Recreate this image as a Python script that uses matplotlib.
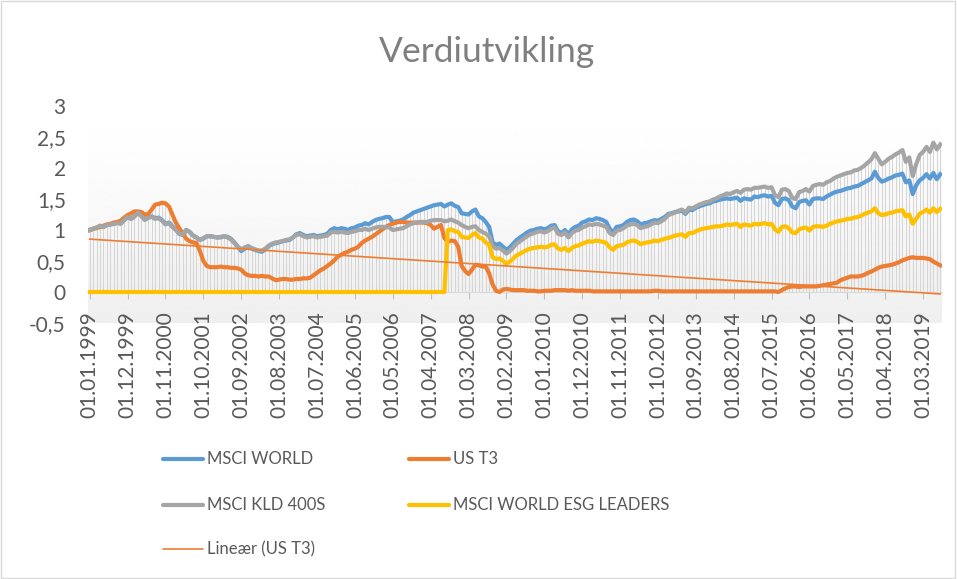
import numpy as np
import pandas as pd
import matplotlib.pyplot as plt
from matplotlib.lines import Line2D

plt.rcParams['font.family'] = ['Lato', 'DejaVu Sans']

# monthly index values, Jan 1999 - Aug 2019
msci_world = [
    1.00, 1.02, 1.04, 1.06, 1.05, 1.08, 1.09, 1.10, 1.12, 1.11, 1.16, 1.21,  # 1999
    1.18, 1.22, 1.28, 1.24, 1.17, 1.20, 1.22, 1.19, 1.20, 1.16, 1.10, 1.12,  # 2000
    1.06, 1.01, 0.94, 0.92, 1.00, 0.97, 0.91, 0.88, 0.84, 0.86, 0.90, 0.90,  # 2001
    0.89, 0.88, 0.88, 0.90, 0.89, 0.86, 0.80, 0.73, 0.66, 0.70, 0.74, 0.70,  # 2002
    0.68, 0.66, 0.65, 0.69, 0.74, 0.77, 0.79, 0.80, 0.82, 0.83, 0.84, 0.88,  # 2003
    0.93, 0.95, 0.92, 0.90, 0.91, 0.92, 0.90, 0.91, 0.92, 0.94, 1.00, 1.03,  # 2004
    1.01, 1.03, 1.02, 1.00, 1.03, 1.04, 1.07, 1.08, 1.11, 1.09, 1.13, 1.16,  # 2005
    1.18, 1.19, 1.21, 1.21, 1.13, 1.14, 1.15, 1.17, 1.21, 1.24, 1.28, 1.30,  # 2006
    1.32, 1.34, 1.36, 1.38, 1.40, 1.41, 1.42, 1.38, 1.41, 1.43, 1.39, 1.37,  # 2007
    1.27, 1.26, 1.25, 1.30, 1.33, 1.22, 1.19, 1.13, 1.05, 0.80, 0.76, 0.78,  # 2008
    0.73, 0.68, 0.72, 0.78, 0.84, 0.88, 0.92, 0.96, 0.99, 1.00, 1.02, 1.03,  # 2009
    1.01, 1.03, 1.07, 1.08, 0.98, 0.95, 1.00, 0.93, 1.01, 1.05, 1.07, 1.12,  # 2010
    1.14, 1.17, 1.16, 1.19, 1.18, 1.16, 1.13, 1.02, 0.96, 1.05, 1.06, 1.08,  # 2011
    1.13, 1.16, 1.17, 1.14, 1.09, 1.11, 1.12, 1.14, 1.16, 1.15, 1.18, 1.21,  # 2012
    1.26, 1.27, 1.29, 1.30, 1.31, 1.26, 1.33, 1.32, 1.36, 1.38, 1.40, 1.42,  # 2013
    1.43, 1.46, 1.47, 1.49, 1.50, 1.51, 1.50, 1.51, 1.52, 1.47, 1.51, 1.50,  # 2014
    1.49, 1.54, 1.53, 1.55, 1.56, 1.54, 1.55, 1.44, 1.40, 1.50, 1.51, 1.48,  # 2015
    1.38, 1.35, 1.45, 1.47, 1.48, 1.41, 1.50, 1.51, 1.51, 1.50, 1.54, 1.57,  # 2016
    1.60, 1.62, 1.63, 1.65, 1.67, 1.68, 1.70, 1.71, 1.74, 1.77, 1.80, 1.83,  # 2017
    1.94, 1.84, 1.78, 1.80, 1.83, 1.85, 1.88, 1.89, 1.91, 1.77, 1.80, 1.58,  # 2018
    1.72, 1.80, 1.84, 1.90, 1.83, 1.92, 1.82, 1.90,                          # 2019
]

us_t3 = [
    1.00, 1.02, 1.03, 1.05, 1.07, 1.09, 1.10, 1.12, 1.13, 1.15, 1.20, 1.24,
    1.27, 1.30, 1.30, 1.29, 1.25, 1.26, 1.33, 1.41, 1.42, 1.44, 1.43, 1.38,
    1.25, 1.12, 1.03, 0.95, 0.86, 0.82, 0.80, 0.79, 0.66, 0.50, 0.42, 0.40,
    0.40, 0.40, 0.41, 0.40, 0.40, 0.39, 0.39, 0.38, 0.36, 0.30, 0.27, 0.26,
    0.26, 0.25, 0.26, 0.25, 0.25, 0.22, 0.19, 0.20, 0.21, 0.21, 0.20, 0.20,
    0.21, 0.21, 0.22, 0.22, 0.23, 0.27, 0.31, 0.35, 0.38, 0.42, 0.46, 0.51,
    0.57, 0.60, 0.63, 0.65, 0.68, 0.70, 0.73, 0.79, 0.83, 0.86, 0.89, 0.93,
    0.97, 1.01, 1.05, 1.08, 1.10, 1.12, 1.13, 1.13, 1.12, 1.12, 1.12, 1.12,
    1.12, 1.12, 1.11, 1.08, 1.02, 1.05, 1.08, 0.87, 0.81, 0.83, 0.82, 0.73,
    0.42, 0.34, 0.29, 0.36, 0.44, 0.43, 0.41, 0.41, 0.30, 0.12, 0.02, 0.00,
    0.04, 0.05, 0.04, 0.03, 0.03, 0.03, 0.03, 0.02, 0.02, 0.02, 0.01, 0.01,
    0.02, 0.02, 0.02, 0.03, 0.03, 0.03, 0.03, 0.02, 0.03, 0.02, 0.02, 0.02,
    0.02, 0.02, 0.01, 0.01, 0.01, 0.01, 0.01, 0.01, 0.01, 0.01, 0.01, 0.01,
    0.01, 0.01, 0.01, 0.01, 0.01, 0.01, 0.01, 0.01, 0.02, 0.02, 0.01, 0.01,
    0.01, 0.01, 0.01, 0.01, 0.01, 0.01, 0.01, 0.01, 0.01, 0.01, 0.01, 0.01,
    0.01, 0.01, 0.01, 0.01, 0.01, 0.01, 0.01, 0.01, 0.01, 0.01, 0.01, 0.01,
    0.01, 0.01, 0.01, 0.01, 0.01, 0.01, 0.01, 0.01, 0.00, 0.03, 0.06, 0.08,
    0.09, 0.09, 0.08, 0.09, 0.09, 0.09, 0.09, 0.09, 0.10, 0.11, 0.12, 0.13,
    0.14, 0.15, 0.19, 0.21, 0.23, 0.25, 0.25, 0.25, 0.26, 0.28, 0.31, 0.33,
    0.36, 0.39, 0.41, 0.42, 0.43, 0.44, 0.46, 0.48, 0.51, 0.53, 0.55, 0.56,
    0.55, 0.55, 0.55, 0.54, 0.53, 0.49, 0.46, 0.43,
]

msci_kld = [
    1.00, 1.02, 1.04, 1.07, 1.05, 1.08, 1.09, 1.10, 1.11, 1.10, 1.16, 1.21,
    1.18, 1.22, 1.28, 1.22, 1.16, 1.20, 1.21, 1.18, 1.19, 1.15, 1.09, 1.11,
    1.05, 1.00, 0.94, 0.93, 1.00, 0.97, 0.91, 0.88, 0.84, 0.87, 0.90, 0.90,
    0.89, 0.88, 0.89, 0.90, 0.88, 0.85, 0.79, 0.73, 0.69, 0.72, 0.74, 0.71,
    0.69, 0.67, 0.67, 0.70, 0.75, 0.78, 0.80, 0.81, 0.82, 0.84, 0.85, 0.88,
    0.92, 0.93, 0.90, 0.88, 0.89, 0.90, 0.88, 0.89, 0.90, 0.91, 0.96, 0.97,
    0.96, 0.97, 0.96, 0.95, 0.97, 0.98, 1.00, 1.00, 1.02, 1.00, 1.02, 1.04,
    1.05, 1.05, 1.05, 1.04, 1.00, 1.01, 1.02, 1.03, 1.06, 1.09, 1.11, 1.12,
    1.13, 1.13, 1.13, 1.15, 1.16, 1.16, 1.16, 1.14, 1.15, 1.17, 1.14, 1.12,
    1.08, 1.05, 1.03, 1.05, 1.06, 1.00, 0.97, 0.94, 0.90, 0.74, 0.70, 0.71,
    0.67, 0.62, 0.66, 0.72, 0.78, 0.82, 0.86, 0.90, 0.93, 0.95, 0.97, 0.98,
    0.96, 0.98, 1.02, 1.04, 0.94, 0.92, 0.96, 0.88, 0.95, 0.99, 1.00, 1.04,
    1.06, 1.09, 1.08, 1.10, 1.09, 1.07, 1.05, 0.95, 0.92, 0.99, 1.00, 1.03,
    1.07, 1.09, 1.10, 1.08, 1.03, 1.05, 1.06, 1.09, 1.12, 1.11, 1.14, 1.18,
    1.24, 1.26, 1.28, 1.31, 1.33, 1.28, 1.36, 1.35, 1.38, 1.41, 1.43, 1.45,
    1.46, 1.49, 1.51, 1.54, 1.56, 1.59, 1.58, 1.61, 1.63, 1.60, 1.65, 1.66,
    1.65, 1.68, 1.68, 1.69, 1.70, 1.68, 1.69, 1.56, 1.53, 1.65, 1.66, 1.63,
    1.52, 1.50, 1.61, 1.63, 1.66, 1.62, 1.71, 1.73, 1.74, 1.73, 1.77, 1.79,
    1.83, 1.86, 1.88, 1.90, 1.92, 1.93, 1.96, 1.97, 2.00, 2.04, 2.09, 2.14,
    2.24, 2.15, 2.06, 2.10, 2.15, 2.18, 2.22, 2.25, 2.29, 2.10, 2.17, 1.87,
    2.06, 2.21, 2.26, 2.34, 2.26, 2.41, 2.30, 2.38,
]

# ESG Leaders is zero until Aug 2007
msci_esg = [0.0] * 104 + [
    1.00, 1.01, 0.98, 0.97,                                                  # 2007
    0.89, 0.88, 0.87, 0.92, 0.95, 0.88, 0.86, 0.80, 0.76, 0.56, 0.53, 0.54,  # 2008
    0.50, 0.46, 0.49, 0.54, 0.59, 0.62, 0.65, 0.68, 0.70, 0.71, 0.72, 0.73,
    0.72, 0.73, 0.76, 0.77, 0.70, 0.68, 0.71, 0.66, 0.71, 0.74, 0.75, 0.78,
    0.80, 0.82, 0.81, 0.83, 0.82, 0.81, 0.79, 0.72, 0.68, 0.74, 0.75, 0.76,
    0.80, 0.82, 0.83, 0.81, 0.77, 0.79, 0.80, 0.81, 0.83, 0.82, 0.84, 0.86,
    0.87, 0.89, 0.91, 0.92, 0.93, 0.89, 0.95, 0.95, 0.98, 1.00, 1.02, 1.03,
    1.04, 1.05, 1.06, 1.06, 1.07, 1.09, 1.08, 1.09, 1.10, 1.05, 1.09, 1.08,
    1.07, 1.10, 1.09, 1.10, 1.11, 1.09, 1.10, 1.01, 0.97, 1.05, 1.06, 1.03,
    0.96, 0.95, 1.01, 1.03, 1.04, 0.99, 1.05, 1.06, 1.06, 1.05, 1.07, 1.10,
    1.12, 1.14, 1.15, 1.16, 1.18, 1.18, 1.20, 1.21, 1.23, 1.26, 1.28, 1.30,
    1.35, 1.27, 1.24, 1.25, 1.27, 1.28, 1.30, 1.31, 1.32, 1.22, 1.25, 1.10,
    1.18, 1.26, 1.29, 1.33, 1.28, 1.35, 1.29, 1.34,
]

dates = pd.date_range('1999-01-01', periods=len(msci_world), freq='MS')
x = np.arange(len(dates))

W, H = 957, 579
fig = plt.figure(figsize=(W / 100, H / 100), dpi=100)
ax = fig.add_axes([88 / W, 1 - 323 / H, 854 / W, 217 / H])
ax.set_xlim(-0.5, len(x) - 0.5)
ax.set_ylim(-0.5, 3)

# plot area gradient, white at top to light grey at the bottom
t = np.linspace(0, 1, 200)
grad = (1.0 - 0.065 * t ** 1.3).reshape(-1, 1)
ax.imshow(grad, cmap='gray', vmin=0, vmax=1, aspect='auto',
          extent=(-0.5, len(x) - 0.5, -0.5, 3), zorder=0)

# drop lines
top = np.max([msci_world, us_t3, msci_kld, msci_esg], axis=0)
ax.vlines(x, 0, top, colors='#d6d6d6', lw=0.8, zorder=1)

l1, = ax.plot(x, msci_world, color='#5b9bd5', lw=3, zorder=3)
l2, = ax.plot(x, us_t3, color='#ed7d31', lw=3, zorder=4)
l3, = ax.plot(x, msci_kld, color='#a5a5a5', lw=3, zorder=5)
l4, = ax.plot(x, msci_esg, color='#ffc000', lw=3, zorder=6)

# linear trend of US T3
k, b = np.polyfit(x, us_t3, 1)
l5, = ax.plot(x, k * x + b, color='#ed7d31', lw=1.2, zorder=7)

for s in ['top', 'right', 'left']:
    ax.spines[s].set_visible(False)
ax.spines['bottom'].set_position(('data', 0))
ax.spines['bottom'].set_color('#d9d9d9')
ax.spines['bottom'].set_zorder(2)

ax.set_xticks(x[::11])
ax.set_xticklabels(dates[::11].strftime('%d.%m.%Y'), rotation=90)
ax.tick_params(axis='x', length=5, color='#bfbfbf', pad=9, labelsize=15, labelcolor='#595959')
ax.set_yticks([-0.5, 0, 0.5, 1, 1.5, 2, 2.5, 3])
ax.set_yticklabels(['-0,5', '0', '0,5', '1', '1,5', '2', '2,5', '3'])
ax.tick_params(axis='y', length=0, pad=16, labelsize=15, labelcolor='#595959')

fig.text(487 / W, 1 - 52 / H, 'Verdiutvikling', ha='center', va='center',
         fontsize=25.5, color='#7f7f7f')

# legend, laid out in pixels like the original
names = ['MSCI WORLD', 'US T3', 'MSCI KLD 400S', 'MSCI WORLD ESG LEADERS', 'Lineær (US T3)']
handles = [l1, l2, l3, l4, l5]
spots = [(163, 459), (409, 459), (163, 505), (409, 505), (163, 549)]
for name, h, (px, py) in zip(names, handles, spots):
    fig.add_artist(Line2D([px / W, (px + 40) / W], [1 - py / H, 1 - py / H],
                          transform=fig.transFigure, color=h.get_color(),
                          lw=h.get_linewidth(), solid_capstyle='round'))
    fig.text((px + 44) / W, 1 - py / H, name, ha='left', va='center',
             fontsize=12, color='#595959')

fig.add_artist(plt.Rectangle((0.001, 0.002), 0.997, 0.996, transform=fig.transFigure,
                             fill=False, edgecolor='#d9d9d9', lw=1))

fig.savefig('out.png', dpi=100)
